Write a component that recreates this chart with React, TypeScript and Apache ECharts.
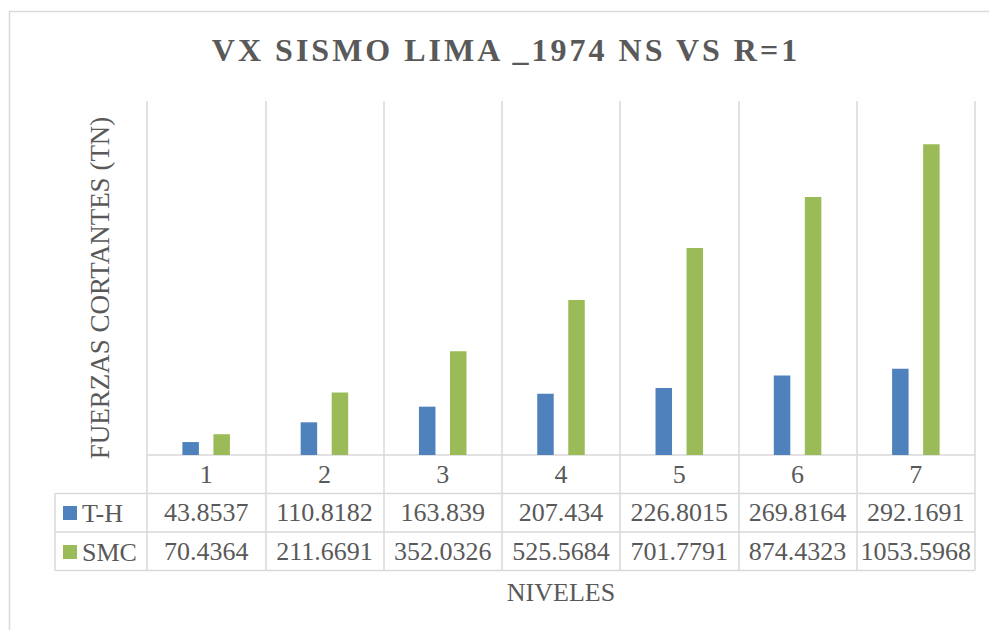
import React, { useEffect, useRef } from "react";
import * as echarts from "echarts";

const categories = ["1", "2", "3", "4", "5", "6", "7"];
const thValues = [43.8537, 110.8182, 163.839, 207.434, 226.8015, 269.8164, 292.1691];
const smcValues = [70.4364, 211.6691, 352.0326, 525.5684, 701.7791, 874.4323, 1053.5968];
const seriesNames = ["T-H", "SMC"];
const seriesColors = ["#4f81bd", "#9bbb59"];
const titleText = "VX SISMO LIMA _1974 NS VS R=1";
const yTitle = "FUERZAS CORTANTES (TN)";
const xTitle = "NIVELES";

const FONT = "Liberation Serif";
const TXT = "#595959";
const LINE = "#d9d9d9";

export default function App() {
  const ref = useRef<HTMLDivElement>(null);
  useEffect(() => {
    if (!ref.current) return;
    const chart = echarts.init(ref.current, null, { renderer: "svg" });
    const gridLeft = 147, gridRight = 14, gridTop = 101, gridBottom = 175;
    const W = 989, H = 630;
    const axisY = H - gridBottom; // 455
    const plotRight = W - gridRight;
    const rowH = 38.5;
    const lineStyle = { color: LINE, width: 1.5 };
    const labelBase = { fontSize: 26, fontFamily: FONT, color: TXT, interval: 0, verticalAlign: "middle" as const };
    chart.setOption({
      animation: false,
      backgroundColor: "#ffffff",
      textStyle: { fontFamily: FONT },
      grid: { left: gridLeft, right: gridRight, top: gridTop, bottom: gridBottom, containLabel: false },
      legend: {
        data: seriesNames,
        orient: "vertical",
        left: 63,
        top: axisY + rowH,
        itemWidth: 14,
        itemHeight: 14,
        itemGap: 0,
        padding: 0,
        icon: "rect",
        selectedMode: false,
        textStyle: { fontSize: 26, lineHeight: 39, fontFamily: FONT, color: TXT },
      },
      xAxis: [
        {
          type: "category",
          data: categories,
          position: "bottom",
          axisLine: { show: true, lineStyle },
          axisTick: { show: true, interval: 0, length: rowH * 3, lineStyle },
          splitLine: { show: true, interval: 0, lineStyle },
          axisLabel: { ...labelBase, margin: rowH / 2 },
          name: xTitle,
          nameLocation: "middle",
          nameGap: 137,
          nameTextStyle: { fontSize: 26, fontFamily: FONT, color: TXT, verticalAlign: "middle" },
        },
        {
          type: "category",
          data: categories,
          position: "bottom",
          offset: 0,
          axisLine: { show: false },
          axisTick: { show: false },
          splitLine: { show: false },
          axisLabel: { ...labelBase, margin: rowH * 1.5, formatter: (_v: string, i: number) => String(thValues[i]) },
        },
        {
          type: "category",
          data: categories,
          position: "bottom",
          offset: 0,
          axisLine: { show: false },
          axisTick: { show: false },
          splitLine: { show: false },
          axisLabel: { ...labelBase, margin: rowH * 2.5, formatter: (_v: string, i: number) => String(smcValues[i]) },
        },
      ],
      yAxis: {
        type: "value",
        min: 0,
        max: 1200,
        axisLine: { show: false },
        axisTick: { show: false },
        axisLabel: { show: false },
        splitLine: { show: false },
      },
      series: [
        {
          type: "bar",
          name: seriesNames[0],
          data: thValues,
          xAxisIndex: 0,
          barWidth: 16.5,
          barGap: "88%",
          itemStyle: { color: seriesColors[0] },
        },
        {
          type: "bar",
          name: seriesNames[1],
          data: smcValues,
          xAxisIndex: 0,
          barWidth: 16.5,
          barGap: "88%",
          itemStyle: { color: seriesColors[1] },
        },
      ],
      graphic: [
        {
          type: "rect",
          silent: true,
          shape: { x: 9.5, y: 11.5, width: 1100, height: 700 },
          style: { fill: "none", stroke: LINE, lineWidth: 1.5 },
        },
        ...[1, 2, 3].map((k) => ({
          type: "line",
          silent: true,
          shape: { x1: 55, y1: axisY + rowH * k, x2: plotRight, y2: axisY + rowH * k },
          style: { stroke: LINE, lineWidth: 1.5 },
        })),
        {
          type: "line",
          silent: true,
          shape: { x1: 55, y1: axisY + rowH, x2: 55, y2: axisY + rowH * 3 },
          style: { stroke: LINE, lineWidth: 1.5 },
        },
        {
          type: "text",
          silent: true,
          x: 506,
          y: 50,
          style: {
            text: titleText,
            fill: TXT,
            fontSize: 32,
            fontWeight: "bold",
            fontFamily: FONT,
            textAlign: "center",
            textVerticalAlign: "middle",
          },
        },
        {
          type: "text",
          silent: true,
          x: 100,
          y: 288,
          rotation: Math.PI / 2,
          style: {
            text: yTitle,
            fill: TXT,
            fontSize: 27,
            fontFamily: FONT,
            textAlign: "center",
            textVerticalAlign: "middle",
          },
        },
      ],
    });
    return () => chart.dispose();
  }, []);
  return (
    <>
      <style>{`svg text[style*="32px"] { letter-spacing: 3px; }`}</style>
      <div ref={ref} style={{ position: "fixed", left: 0, top: 0, width: 989, height: 630, background: "#fff" }} />
    </>
  );
}
